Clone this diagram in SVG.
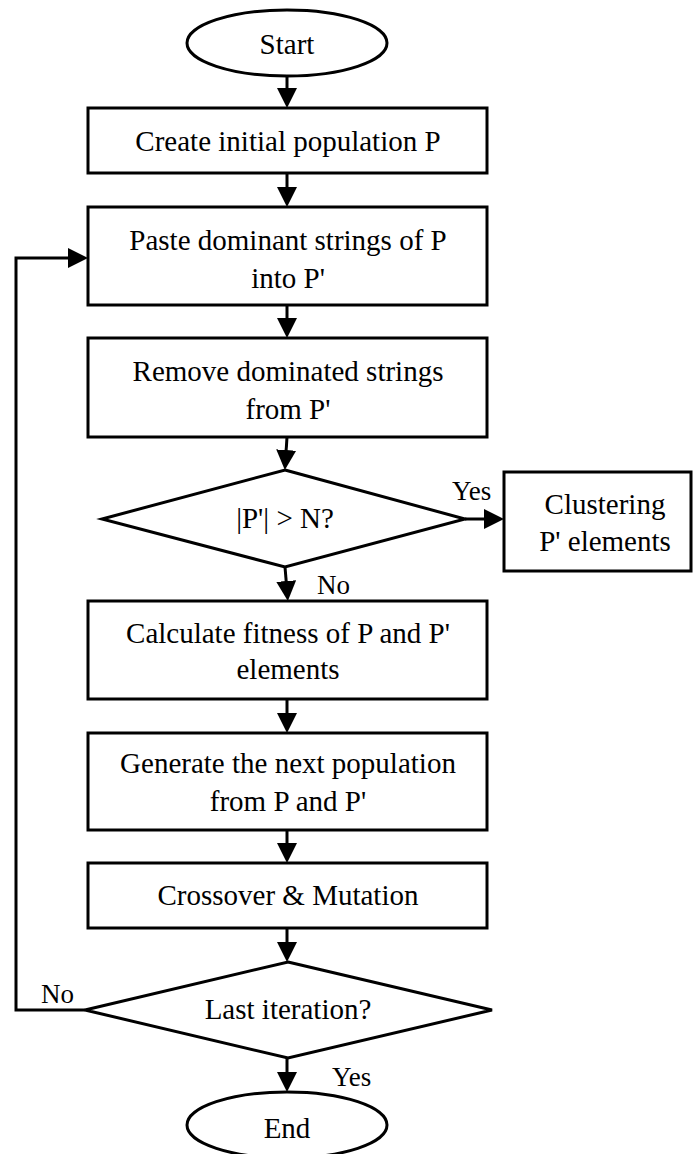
<svg xmlns="http://www.w3.org/2000/svg" width="693" height="1154" viewBox="0 0 693 1154">
<style>
.s{fill:#fff;stroke:#000;stroke-width:3}
.c{fill:none;stroke:#000;stroke-width:3}
.t{font-family:"Liberation Serif","Times New Roman",serif;font-size:29px;fill:#000;text-anchor:middle}
.l{font-family:"Liberation Serif","Times New Roman",serif;font-size:27px;fill:#000}
</style>
<defs>
<marker id="ah" viewBox="0 0 20 20" refX="10" refY="10" markerWidth="20" markerHeight="20" markerUnits="userSpaceOnUse" orient="auto">
<path d="M0,0 L20,10 L0,20 z" fill="#000"/>
</marker>
</defs>
<g id="connectors">
<line class="c" x1="287" y1="76" x2="287" y2="98" marker-end="url(#ah)"/>
<line class="c" x1="287" y1="173" x2="287" y2="197" marker-end="url(#ah)"/>
<line class="c" x1="287" y1="305" x2="287" y2="328" marker-end="url(#ah)"/>
<line class="c" x1="287" y1="437" x2="285.5" y2="460" marker-end="url(#ah)"/>
<line class="c" x1="285" y1="567" x2="287" y2="591" marker-end="url(#ah)"/>
<line class="c" x1="465" y1="519" x2="494" y2="519" marker-end="url(#ah)"/>
<line class="c" x1="287" y1="699" x2="287" y2="723" marker-end="url(#ah)"/>
<line class="c" x1="287" y1="830" x2="287" y2="853" marker-end="url(#ah)"/>
<line class="c" x1="287" y1="928" x2="287" y2="952" marker-end="url(#ah)"/>
<line class="c" x1="287" y1="1058" x2="287" y2="1082" marker-end="url(#ah)"/>
<polyline class="c" points="85,1010 16,1010 16,258 78,258" marker-end="url(#ah)"/>
<text class="l" x="452" y="500">Yes</text>
<text class="l" x="317" y="594">No</text>
<text class="l" x="41" y="1003">No</text>
<text class="l" x="332" y="1086">Yes</text>
</g>
<g id="start">
<ellipse class="s" cx="287" cy="43" rx="100" ry="33"/>
<text class="t" x="287" y="54">Start</text>
</g>
<g id="create">
<rect class="s" x="88" y="108" width="399" height="65"/>
<text class="t" x="288" y="151">Create initial population P</text>
</g>
<g id="paste">
<rect class="s" x="88" y="207" width="399" height="98"/>
<text class="t" x="288" y="250">Paste dominant strings of P</text>
<text class="t" x="288" y="288">into P'</text>
</g>
<g id="remove">
<rect class="s" x="88" y="338" width="399" height="99"/>
<text class="t" x="288" y="381">Remove dominated strings</text>
<text class="t" x="288" y="419">from P'</text>
</g>
<g id="decision1">
<polygon class="s" points="285,470 465,519 285,567 102,519"/>
<text class="t" x="285" y="528">|P'| &gt; N?</text>
</g>
<g id="clustering">
<rect class="s" x="504" y="472" width="187" height="99"/>
<text class="t" x="605" y="514">Clustering</text>
<text class="t" x="605" y="551">P' elements</text>
</g>
<g id="fitness">
<rect class="s" x="88" y="601" width="399" height="98"/>
<text class="t" x="288" y="643">Calculate fitness of P and P'</text>
<text class="t" x="288" y="679">elements</text>
</g>
<g id="generate">
<rect class="s" x="88" y="733" width="399" height="97"/>
<text class="t" x="288" y="773">Generate the next population</text>
<text class="t" x="288" y="811">from P and P'</text>
</g>
<g id="crossover">
<rect class="s" x="88" y="863" width="399" height="65"/>
<text class="t" x="288" y="905">Crossover &amp; Mutation</text>
</g>
<g id="decision2">
<polygon class="s" points="288,962 492,1010 288,1058 85,1010"/>
<text class="t" x="288" y="1019">Last iteration?</text>
</g>
<g id="end">
<ellipse class="s" cx="287" cy="1125" rx="100" ry="33"/>
<text class="t" x="287" y="1138">End</text>
</g>
</svg>
